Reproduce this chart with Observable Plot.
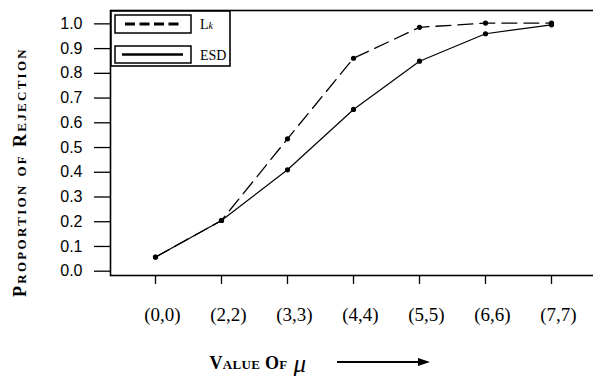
<!DOCTYPE html>
<html>
<head>
<meta charset="utf-8">
<script src="https://cdn.jsdelivr.net/npm/d3@7"></script>
<script src="https://cdn.jsdelivr.net/npm/@observablehq/plot@0.6"></script>
<style>
  html, body { margin: 0; padding: 0; background: #fff; overflow: hidden; }
  #chart { width: 593px; height: 376px; overflow: hidden; }
</style>
</head>
<body>
<div id="chart"></div>
<script>
// ---- data ----
const categories = ["(0,0)", "(2,2)", "(3,3)", "(4,4)", "(5,5)", "(6,6)", "(7,7)"];
const lkValues  = [0.057, 0.205, 0.535, 0.861, 0.986, 1.003, 1.003];
const esdValues = [0.057, 0.205, 0.410, 0.654, 0.849, 0.960, 0.996];
const yTicks = [0.0, 0.1, 0.2, 0.3, 0.4, 0.5, 0.6, 0.7, 0.8, 0.9, 1.0];
const seriesNames = ["Lk", "ESD"];
const yLabel = "Proportion of Rejection";
const xLabel = "Value Of";
const muSymbol = "\u03BC";

const lkRows = categories.map((c, i) => ({cat: c, v: lkValues[i]}));
const esdRows = categories.map((c, i) => ({cat: c, v: esdValues[i]}));

const plot = Plot.plot({
  width: 600,
  height: 376,
  marginLeft: 110,
  marginRight: 0,
  marginTop: 10,
  marginBottom: 101,
  style: {background: "#fff", color: "#000", overflow: "visible", maxWidth: "none"},
  x: {type: "point", domain: categories, range: [152.7, 554], padding: 0},
  y: {domain: [-0.0174, 1.054]},
  marks: [
    Plot.axisY({ticks: yTicks, tickFormat: d => d.toFixed(1), tickSize: 16, tickPadding: 12,
      fontSize: 16, fontFamily: "Liberation Sans", label: null, strokeWidth: 1.3}),
    Plot.axisX({tickSize: 9, label: null, strokeWidth: 1.3, text: null}),
    Plot.axisX({tickSize: 0, tickPadding: 32, dx: 7, fontSize: 19, fontFamily: "Liberation Serif",
      label: null}),
    Plot.frame({stroke: "#000", strokeWidth: 1.6}),
    Plot.line(esdRows, {x: "cat", y: "v", stroke: "#000", strokeWidth: 1.2}),
    Plot.line(lkRows, {x: "cat", y: "v", stroke: "#000", strokeWidth: 1.3, strokeDasharray: "15,7"}),
    Plot.dot(esdRows, {x: "cat", y: "v", r: 2.6, fill: "#000"}),
    Plot.dot(lkRows, {x: "cat", y: "v", r: 2.6, fill: "#000"}),
    Plot.text([yLabel], {text: d => d, frameAnchor: "left", textAnchor: "middle", rotate: -90, dx: -90, dy: 29,
      fontSize: 18, fontWeight: "bold", fontFamily: "Liberation Serif", fontVariant: "small-caps", fill: "#000"}),
    Plot.text([xLabel], {text: d => d, frameAnchor: "bottom-left", textAnchor: "start", lineAnchor: "bottom",
      dx: 99, dy: 93, fontSize: 18, fontWeight: "bold", fontFamily: "Liberation Serif", fontVariant: "small-caps", fill: "#000"}),
    Plot.text([muSymbol], {text: d => d, frameAnchor: "bottom-left", textAnchor: "start", lineAnchor: "bottom",
      dx: 183, dy: 96, fontSize: 25, fontStyle: "italic", fontFamily: "Liberation Serif", fill: "#000"})
  ]
});

document.getElementById("chart").appendChild(plot);

const svg = d3.select(plot);
svg.selectAll("text").filter(function() { return this.textContent === yLabel; })
  .attr("letter-spacing", "2.3");
svg.selectAll("text").filter(function() { return this.textContent === xLabel; })
  .attr("letter-spacing", "0.3");

// arrow after the x label
const arrow = svg.append("g").attr("stroke", "#000").attr("fill", "#000");
arrow.append("line").attr("x1", 337).attr("x2", 420).attr("y1", 362).attr("y2", 362).attr("stroke-width", 1.8);
arrow.append("path").attr("d", "M430,362 L418,358 L418,366 Z").attr("stroke", "none");

// legend
const lg = svg.append("g").attr("text-anchor", "start");
lg.append("rect").attr("x", 111).attr("y", 11).attr("width", 119).attr("height", 55)
  .attr("fill", "#fff").attr("stroke", "#000").attr("stroke-width", 1.6);
const boxes = [{y: 15, h: 18}, {y: 46, h: 17}];
seriesNames.forEach((name, i) => {
  const b = boxes[i];
  lg.append("rect").attr("x", 115).attr("y", b.y).attr("width", 76).attr("height", b.h)
    .attr("fill", "none").attr("stroke", "#000").attr("stroke-width", 1.5);
  const cy = b.y + b.h / 2;
  lg.append("line").attr("x1", i === 0 ? 125 : 122).attr("x2", i === 0 ? 181 : 183)
    .attr("y1", cy).attr("y2", cy).attr("stroke", "#000")
    .attr("stroke-width", i === 0 ? 3 : 2.5)
    .attr("stroke-dasharray", i === 0 ? "10,4.5" : null);
  const t = lg.append("text").attr("x", 200).attr("y", cy + 5).attr("text-anchor", "start")
    .attr("font-family", "Liberation Serif").attr("font-size", 14).attr("fill", "#000");
  if (name === "Lk") {
    t.append("tspan").text("L");
    t.append("tspan").attr("font-size", 10).attr("font-style", "italic").text("k");
  } else {
    t.text(name);
  }
});
</script>
</body>
</html>
